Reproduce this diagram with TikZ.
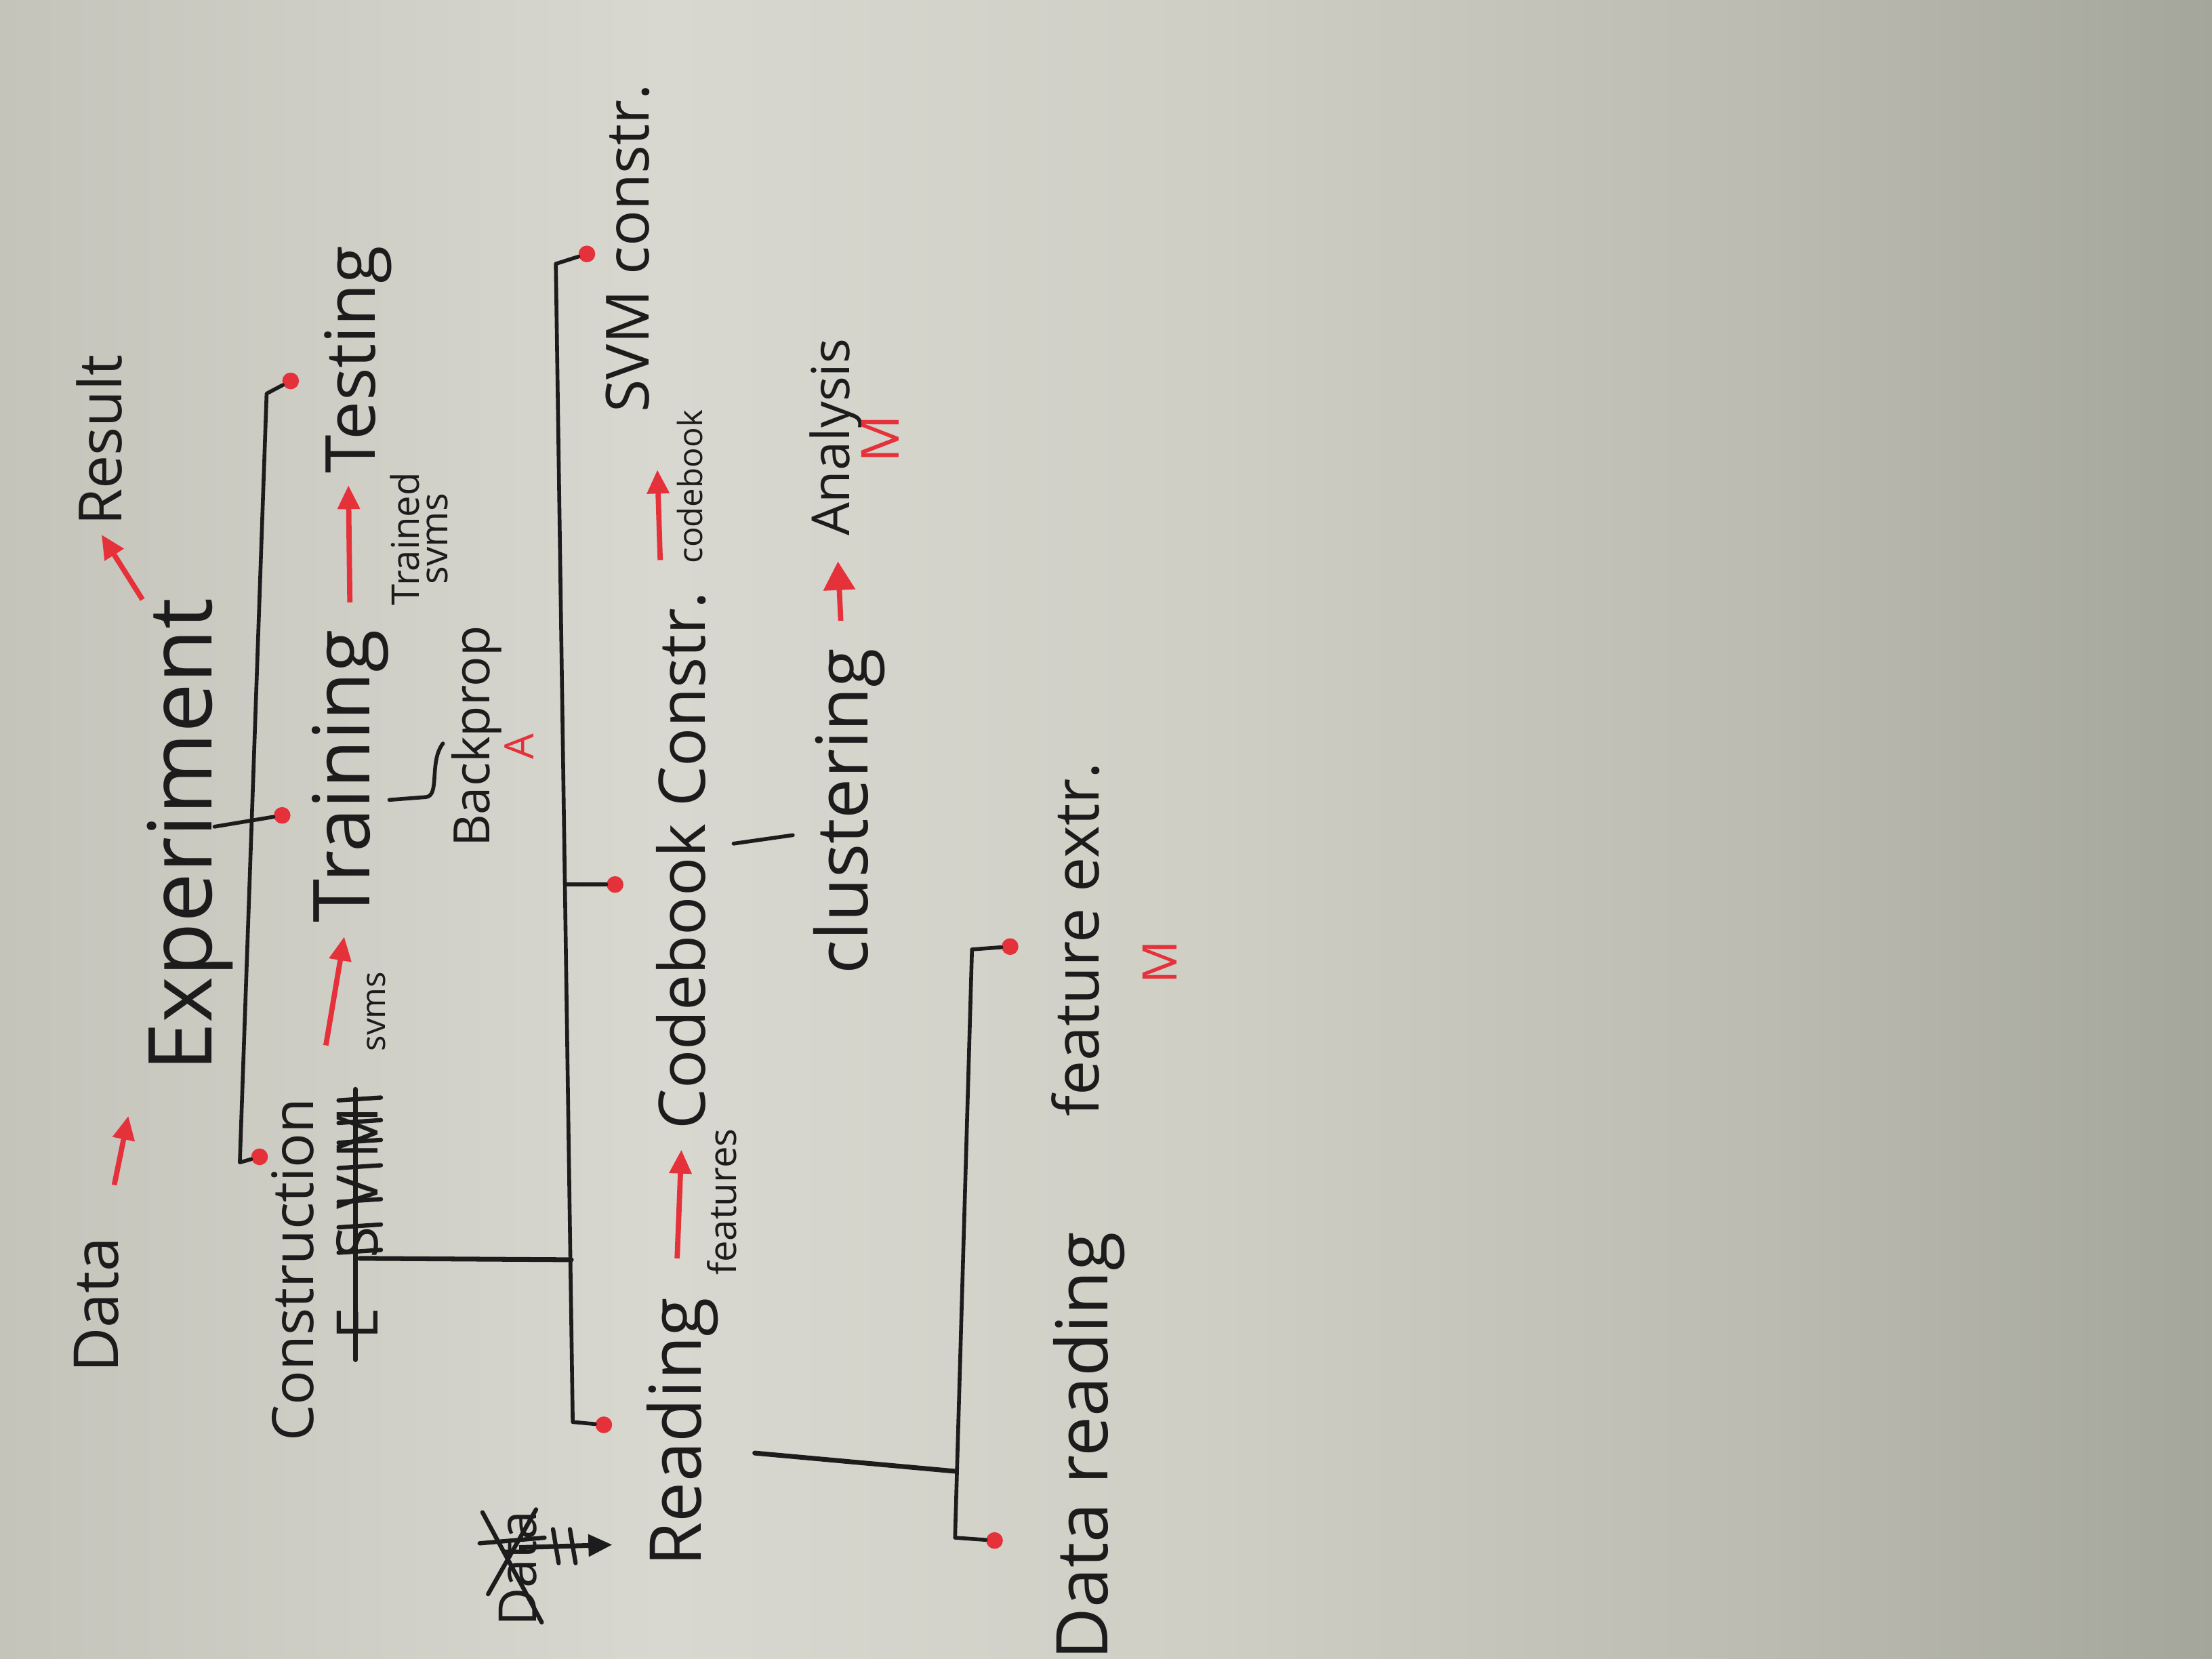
\documentclass[tikz,border=0pt]{standalone}
\usepackage{fontspec}
\setmainfont{Open Sans}
\usetikzlibrary{arrows.meta}
\definecolor{ink}{HTML}{1C1C1C}
\definecolor{rink}{HTML}{E5313A}
\definecolor{pA}{HTML}{C4C4BB}
\definecolor{pB}{HTML}{D8D8D0}
\definecolor{pC}{HTML}{CFCFC6}
\definecolor{pD}{HTML}{BBBBB1}
\definecolor{pE}{HTML}{A5A69B}
\pgfdeclarehorizontalshading{paper}{100bp}{color(0bp)=(pA); color(25bp)=(pA); color(40bp)=(pB); color(52bp)=(pC); color(65bp)=(pD); color(75bp)=(pE); color(100bp)=(pE)}
\newcommand\fsz[1]{\fontsize{#1}{#1}\selectfont}
\tikzset{
  lbl/.style={rotate=90, inner sep=0pt, text=ink, anchor=base},
  rlbl/.style={rotate=90, inner sep=0pt, text=rink},
  bline/.style={draw=ink, line width=1.6pt, line cap=round, line join=round},
  rarrow/.style={draw=rink, line width=2.2pt, -{Triangle[length=10pt,width=9pt]}},
  karrow/.style={draw=ink, line width=2pt, -{Triangle[length=10pt,width=9pt]}},
  rdot/.style={circle, fill=rink, inner sep=0pt, minimum size=7pt},
  strike/.style={draw=ink, line width=1.8pt, line cap=round}
}
\begin{document}
\begin{tikzpicture}[x=0.020816cm, y=-0.020816cm]
\useasboundingbox (0,0) rectangle (1568,1176);
\shade[shading=paper] (0,0) rectangle (1568,1176);

% ---- texts ----
\node[lbl, font=\fsz{26}] (data) at (84,925) {Data};
\node[lbl, font=\fsz{37}] (exp) at (150,592) {Experiment};
\node[lbl, font=\fsz{25}] (res) at (86,312) {Result};
\node[lbl, font=\fsz{24}] (con) at (222,900) {Construction};
\node[lbl, font=\fsz{24}] (strkE) at (268,938) {E};
\node[lbl, font=\fsz{24}\addfontfeature{LetterSpace=30}] (strkS) at (268,838) {SVM};
\node[lbl, font=\fsz{33}] (tra) at (262,550) {Training};
\node[lbl, font=\fsz{29}] (tes) at (266,255) {Testing};
\node[rotate=90, inner sep=0pt, text=ink, align=center, font=\fontsize{16}{12}\selectfont] (trs) at (297,382) {Trained\\svms};
\node[lbl, font=\fsz{21}] (bp) at (347,522) {Backprop};
\node[rlbl, font=\fsz{17}] (mA) at (368,529) {A};
\node[lbl, font=\fsz{14}] (svl) at (273,717) {svms};
\node[lbl, font=\fsz{30}] (read) at (497,1015) {Reading};
\node[lbl, font=\fsz{16}] (feat) at (522,852) {features};
\node[lbl, font=\fsz{27}] (cb) at (500,610) {Codebook Constr.};
\node[lbl, font=\fsz{14}] (cbl) at (498,345) {codebook};
\node[lbl, font=\fsz{25}] (svm) at (460,176) {SVM constr.};
\node[lbl, font=\fsz{30}] (clu) at (615,575) {clustering};
\node[lbl, font=\fsz{22}] (ana) at (602,310) {Analysis};
\node[rlbl, font=\fsz{22}] (mM1) at (624,311) {M};
\node[lbl, font=\fsz{30}] (dr) at (785,1025) {Data reading};
\node[lbl, font=\fsz{26}] (fe) at (779,666) {feature extr.};
\node[rlbl, font=\fsz{20}] (mM2) at (822,682) {M};
\node[lbl, font=\fsz{22}] (sd) at (380,1112) {Data};

% ---- strike-outs ----
\draw[strike] (252,964) -- (252,772);
\foreach \yy in {780,796,810,828,852,870,888} \draw[strike] (240,\yy) -- (270,\yy-2);
\draw[strike] (342,1072) -- (384,1150);
\draw[strike] (340,1094) -- (386,1090);
\draw[strike] (346,1130) -- (380,1070);

% ---- red dots ----
\node[rdot] (dCon) at (184,820) {};
\node[rdot] (dTra) at (200,578) {};
\node[rdot] (dTes) at (206,270) {};
\node[rdot] (dRead) at (428,1010) {};
\node[rdot] (dCode) at (436,627) {};
\node[rdot] (dSvm) at (416,180) {};
\node[rdot] (dDR) at (705,1092) {};
\node[rdot] (dFE) at (716,671) {};

% ---- bracket corners ----
\coordinate (eA) at (170,824);
\coordinate (eB) at (189,279);
\coordinate (eJ) at (152,586);
\coordinate (cA) at (406,1008);
\coordinate (cB) at (394,187);
\coordinate (cC) at (401,627);
\coordinate (cJ) at (255,892);
\coordinate (cM) at (405,893);
\coordinate (rA) at (677,1090);
\coordinate (rB) at (689,673);
\coordinate (rJ) at (535,1030);
\coordinate (rM) at (678,1043);
\coordinate (k1) at (520,598);
\coordinate (k2) at (562,592);
\coordinate (b1) at (276,567);
\coordinate (b2) at (302,565);
\coordinate (b3) at (314,527);

% ---- black connectors ----
\draw[bline] (dCon) -- (eA) -- (eB) -- (dTes);
\draw[bline] (eJ) -- (dTra);
\draw[bline] (dRead) -- (cA) -- (cB) -- (dSvm);
\draw[bline] (cC) -- (dCode);
\draw[bline, line width=2pt] (cJ) -- (cM);
\draw[bline] (dDR) -- (rA) -- (rB) -- (dFE);
\draw[bline, line width=2pt] (rJ) -- (rM);
\draw[bline] (k1) -- (k2);
\draw[bline] (b1) -- (b2) .. controls (312,564) and (304,540) .. (b3);

% ---- red arrows ----
\coordinate (a1s) at (81,840);  \coordinate (a1e) at (91,791);
\coordinate (a2s) at (101,425); \coordinate (a2e) at (72,379);
\coordinate (a3s) at (231,741); \coordinate (a3e) at (244,664);
\coordinate (a4s) at (248,427); \coordinate (a4e) at (247,344);
\coordinate (a5s) at (480,892); \coordinate (a5e) at (483,815);
\coordinate (a6s) at (468,397); \coordinate (a6e) at (466,333);
\coordinate (a7s) at (596,440); \coordinate (a7e) at (594,398);
\draw[rarrow] (a1s) -- (a1e);
\draw[rarrow] (a2s) -- (a2e);
\draw[rarrow] (a3s) -- (a3e);
\draw[rarrow] (a4s) -- (a4e);
\draw[rarrow] (a5s) -- (a5e);
\draw[rarrow] (a6s) -- (a6e);
\draw[rarrow, -{Triangle[length=12pt,width=13pt]}] (a7s) -- (a7e);

% ---- black arrow from struck Data to Reading ----
\coordinate (ks) at (368,1097);
\coordinate (ke) at (434,1095);
\draw[karrow] (ks) -- (ke);
\draw[strike] (392,1084) -- (396,1108);
\draw[strike] (404,1084) -- (408,1108);
\end{tikzpicture}
\end{document}
